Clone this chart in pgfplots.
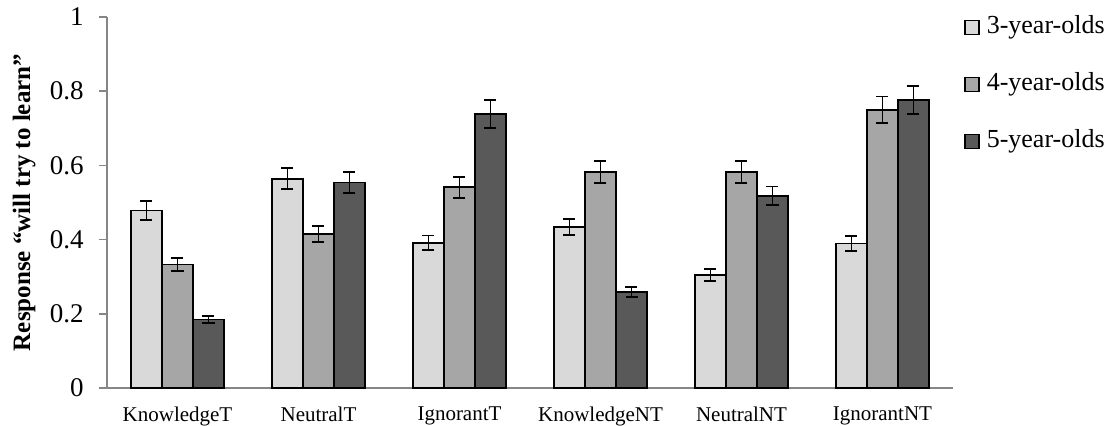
\documentclass[border=0pt]{standalone}
\usepackage{fontspec}
\setmainfont{Liberation Serif}
\usepackage{pgfplots}
\pgfplotsset{compat=1.18}
\definecolor{cA}{HTML}{D9D9D9}
\definecolor{cB}{HTML}{A6A6A6}
\definecolor{cC}{HTML}{595959}
\definecolor{axgray}{HTML}{868686}
\newcommand\yt[1]{{\fontsize{13.5}{16}\selectfont #1}}
\newcommand\xt[1]{{\fontsize{10.5}{12}\selectfont #1}}
\begin{document}
\begin{tikzpicture}
\useasboundingbox (-53.5pt,-18.5pt) rectangle (502.5pt,194pt);
\begin{axis}[
  at={(0,0)}, anchor=south west,
  scale only axis, width=423pt, height=185.5pt,
  ybar=0pt, bar width=15.5pt,
  xmin=-0.5, xmax=5.5, ymin=0, ymax=1,
  xtick=data,
  xticklabels={\xt{KnowledgeT},\xt{NeutralT},\xt{IgnorantT},\xt{KnowledgeNT},\xt{NeutralNT},\xt{IgnorantNT}},
  ytick={0,0.2,0.4,0.6,0.8,1},
  yticklabels={\yt{0},\yt{0.2},\yt{0.4},\yt{0.6},\yt{0.8},\yt{1}},
  axis x line*=bottom, axis y line*=left,
  axis line style={axgray, line width=0.8pt},
  x axis line style={-}, y axis line style={-},
  xtick style={draw=none},
  ytick style={axgray, line width=0.8pt},
  tick align=outside, major tick length=4pt,
  yticklabel style={inner sep=0pt, xshift=-7.5pt},
  xticklabel style={inner sep=0pt, yshift=-5.2pt},
  ylabel={\textbf{Response “will try to learn”}},
  ylabel style={font=\fontsize{12.5}{14}\selectfont, at={(axis description cs:-0.098,0.5)}, anchor=center},
  legend style={at={(axis description cs:1.013,1.012)}, anchor=north west, draw=none, fill=none,
    font=\fontsize{13}{15}\selectfont, row sep=14pt, inner sep=0pt,
    nodes={inner sep=1pt, text height=9.5pt, text depth=3pt},
    /tikz/every odd column/.append style={column sep=2.5pt}},
  legend cell align=left,
  legend image code/.code={\draw[#1, line width=0.7pt] (0pt,-3.5pt) rectangle (7pt,3.5pt);},
  error bars/y dir=both, error bars/y explicit,
  error bars/error bar style={black, line width=0.9pt},
  error bars/error mark options={rotate=90, mark size=3pt, black, line width=0.9pt},
]
\addplot[fill=cA, draw=black, line width=0.8pt] coordinates {
  (0,0.478) +- (0,0.025)
  (1,0.564) +- (0,0.028)
  (2,0.391) +- (0,0.020)
  (3,0.434) +- (0,0.022)
  (4,0.304) +- (0,0.016)
  (5,0.390) +- (0,0.020)
};
\addplot[fill=cB, draw=black, line width=0.8pt] coordinates {
  (0,0.333) +- (0,0.017)
  (1,0.415) +- (0,0.021)
  (2,0.541) +- (0,0.028)
  (3,0.582) +- (0,0.030)
  (4,0.582) +- (0,0.030)
  (5,0.750) +- (0,0.036)
};
\addplot[fill=cC, draw=black, line width=0.8pt] coordinates {
  (0,0.185) +- (0,0.010)
  (1,0.554) +- (0,0.029)
  (2,0.739) +- (0,0.038)
  (3,0.259) +- (0,0.013)
  (4,0.518) +- (0,0.025)
  (5,0.777) +- (0,0.038)
};
\legend{3-year-olds,4-year-olds,5-year-olds}
\end{axis}
\end{tikzpicture}
\end{document}
